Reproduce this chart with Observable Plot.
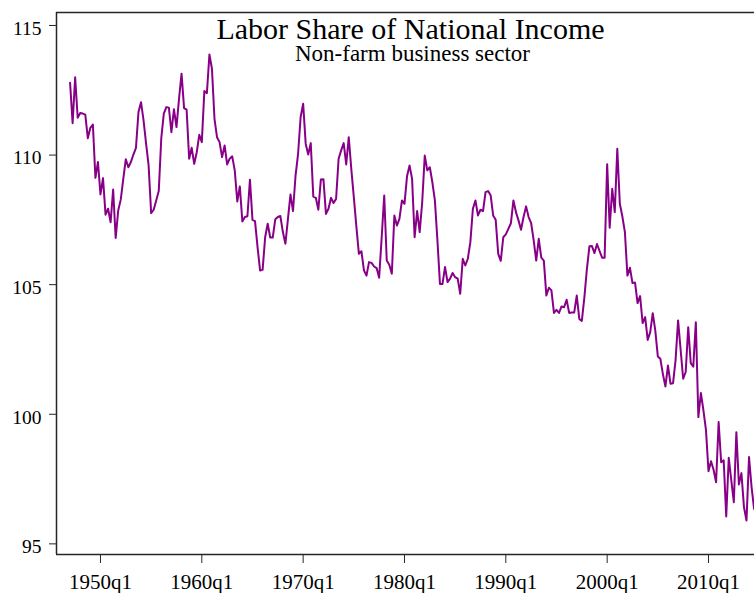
<!DOCTYPE html>
<html>
<head>
<meta charset="utf-8">
<script src="https://cdn.jsdelivr.net/npm/d3@7"></script>
<script src="https://cdn.jsdelivr.net/npm/@observablehq/plot@0.6"></script>
<style>
  html, body { margin: 0; padding: 0; background: #fff; }
  #chart { width: 754px; height: 593px; }
</style>
</head>
<body>
<div id="chart"></div>
<script>
const title = "Labor Share of National Income";
const subtitle = "Non-farm business sector";

// quarterly series, first observation 1947q1
const firstYear = 1947;
const laborShare = [
  112.79, 111.23, 113.0, 111.44, 111.62, 111.6, 111.56, 110.65, 111.05, 111.18,
  109.12, 109.73, 108.48, 109.11, 107.7, 107.93, 107.41, 108.67, 106.8, 107.86,
  108.28, 109.08, 109.84, 109.53, 109.73, 110.02, 110.28, 111.66, 112.04, 111.34,
  110.44, 109.6, 107.76, 107.89, 108.25, 108.61, 110.65, 111.6, 111.85, 111.83,
  110.88, 111.77, 111.08, 112.17, 113.14, 111.81, 111.75, 109.86, 110.28, 109.66,
  110.11, 110.78, 110.5, 112.47, 112.39, 113.88, 113.33, 111.4, 110.69, 110.5,
  109.92, 110.37, 109.64, 109.86, 109.95, 109.41, 108.21, 108.79, 107.44, 107.61,
  107.64, 109.05, 107.5, 107.45, 106.45, 105.55, 105.57, 106.83, 107.35, 106.82,
  106.82, 107.52, 107.61, 107.65, 107.03, 106.58, 107.54, 108.48, 107.84, 109.21,
  110.05, 111.46, 111.98, 110.44, 110.02, 110.46, 108.4, 108.35, 107.89, 109.06,
  109.07, 107.73, 107.93, 108.35, 108.15, 108.31, 109.86, 110.18, 110.46, 109.64,
  110.69, 109.47, 108.38, 107.25, 106.19, 106.29, 105.55, 105.35, 105.87, 105.84,
  105.7, 105.64, 105.27, 106.83, 108.44, 105.93, 105.77, 105.42, 107.67, 107.28,
  107.54, 108.25, 108.12, 109.18, 109.6, 109.08, 106.83, 107.84, 107.03, 108.19,
  109.98, 109.41, 109.53, 108.95, 108.25, 106.71, 105.03, 105.03, 105.68, 105.1,
  105.23, 105.45, 105.29, 105.23, 104.65, 106.0, 105.74, 106.0, 106.64, 107.93,
  108.25, 107.67, 107.89, 107.84, 108.57, 108.61, 108.45, 107.67, 107.5, 106.19,
  105.92, 106.83, 106.94, 107.15, 107.37, 108.25, 107.8, 107.48, 107.12, 107.61,
  108.02, 107.61, 107.37, 106.71, 105.93, 106.77, 106.04, 105.93, 104.58, 104.88,
  104.78, 103.91, 104.03, 103.91, 104.16, 104.13, 104.42, 103.91, 103.93, 103.93,
  104.58, 103.68, 103.6, 104.5, 105.6, 106.48, 106.49, 106.22, 106.57, 106.3,
  106.04, 106.04, 109.65, 107.2, 108.7, 107.8, 110.24, 108.12, 107.63, 107.03,
  105.35, 105.65, 105.06, 105.08, 104.29, 104.56, 103.52, 103.75, 102.87, 103.17,
  103.9, 103.23, 102.23, 102.14, 101.55, 101.07, 101.88, 101.18, 101.2, 102.08,
  103.62, 102.49, 101.37, 101.63, 103.36, 101.97, 101.84, 103.55, 99.89, 100.82,
  100.15, 99.4, 97.8, 98.19, 97.86, 97.38, 99.7, 98.15, 98.22, 96.06,
  98.32, 97.45, 96.61, 99.31, 97.29, 97.73, 96.42, 95.9, 98.35, 97.19,
  96.35
];

const xTickYears = [1950, 1960, 1970, 1980, 1990, 2000, 2010];
const xTickLabels = ["1950q1", "1960q1", "1970q1", "1980q1", "1990q1", "2000q1", "2010q1"];
const yTicks = [95, 100, 105, 110, 115];

const rows = laborShare.map((v, i) => ({ t: firstYear + i / 4, v }));

const xDomain = [1945.66, 2014.54];
const yDomain = [94.59, 115.50];
const ink = "#262626";
const lineColor = "#880088";

const chart = Plot.plot({
  width: 754,
  height: 593,
  marginLeft: 56,
  marginRight: 0,
  marginTop: 12,
  marginBottom: 39,
  style: {
    fontFamily: "'Liberation Serif', 'Times New Roman', serif",
    background: "#fff",
    color: "#000",
    overflow: "visible"
  },
  x: { domain: xDomain },
  y: { domain: yDomain },
  marks: [
    Plot.ruleY([yDomain[1]], { stroke: ink, strokeWidth: 1.3 }),
    Plot.ruleY([yDomain[0]], { stroke: ink, strokeWidth: 1.5 }),
    Plot.ruleX([xDomain[0]], { stroke: ink, strokeWidth: 1.5 }),
    Plot.axisX({
      ticks: xTickYears,
      tickFormat: (d, i) => xTickLabels[i],
      tickSize: 9,
      tickPadding: 11,
      fontSize: 21,
      stroke: ink,
      label: null
    }),
    Plot.axisY({
      ticks: yTicks,
      tickSize: 7,
      tickPadding: 8,
      fontSize: 19.5,
      stroke: ink,
      label: null
    }),
    Plot.line(rows, { x: "t", y: "v", stroke: lineColor, strokeWidth: 2 }),
    Plot.text([title], {
      text: d => d, frameAnchor: "top", lineAnchor: "top",
      dx: 5, dy: 5, fontSize: 30, fill: "#000"
    }),
    Plot.text([subtitle], {
      text: d => d, frameAnchor: "top", lineAnchor: "top",
      dx: 7, dy: 32, fontSize: 23, fill: "#000"
    })
  ]
});

d3.select(chart).selectAll('g[aria-label="y-axis tick label"]').each(function () {
  const t = this.getAttribute("transform") || "";
  this.setAttribute("transform", (t + " translate(0,3)").trim());
});

document.getElementById("chart").appendChild(chart);
</script>
</body>
</html>
